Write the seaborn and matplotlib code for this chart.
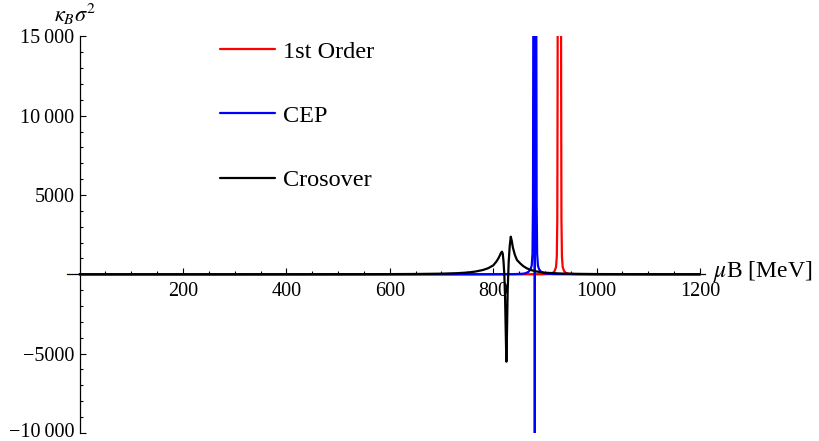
import numpy as np
import pandas as pd
import matplotlib
matplotlib.use("Agg")
import matplotlib.pyplot as plt
import matplotlib.transforms as mtransforms
import seaborn as sns
from matplotlib.ticker import FixedLocator, FixedFormatter

sns.set_style("white")
plt.rcParams["font.family"] = ["Liberation Serif", "DejaVu Serif"]
plt.rcParams["mathtext.fontset"] = "stix"
plt.rcParams["text.color"] = "black"
plt.rcParams["xtick.color"] = "black"
plt.rcParams["ytick.color"] = "black"
plt.rcParams["axes.labelcolor"] = "black"

# --- curve samples: muB [MeV] vs kappa_B sigma^2 ---
first_order_x = [0, 200, 400, 600, 700, 800, 860, 900, 910, 916, 919, 921.5, 923, 924,
                 924.6, 925.2, 928, 930.8, 931.4, 932, 933, 934.5, 937, 940, 946, 960,
                 1000, 1100, 1200]
first_order_y = [0, 0, 0, 0, 1, 2, 5, 10, 30, 100, 220, 450, 1100, 3500,
                 12000, 30000, 60000, 30000, 12000, 3500, 1100, 450, 220, 100, 30, 10,
                 3, 1, 0]

cep_x = [0, 200, 400, 600, 700, 800, 840, 855, 862, 868, 872, 874.5, 876, 877,
         877.5, 878.2, 880.3, 880.5, 880.7, 882.8, 883.5, 884, 885, 886.5, 889, 893,
         899, 906, 920, 960, 1000, 1100, 1200]
cep_y = [0, 0, 0, 0, 1, 5, 12, 30, 60, 150, 300, 550, 1300, 4500,
         14000, 35000, 60000, -60000, 60000, 35000, 14000, 4500, 1300, 550, 300, 150,
         60, 30, 12, 5, 2, 1, 0]

crossover_x = [0, 100, 200, 300, 400, 500, 600, 650, 700, 730, 750, 765, 780, 790,
               800, 806, 810, 813, 815, 817, 818.5, 820, 821.5, 823, 824.5, 825.5,
               826.5, 828, 830, 832, 834, 836, 838, 842, 846, 852, 858, 865, 874,
               885, 900, 930, 960, 1000, 1100, 1200]
crossover_y = [0, 0, 0, 0, 2, 5, 12, 20, 40, 70, 110, 170, 270, 380,
               560, 795, 1000, 1200, 1350, 1425, 1300, 800, 0, -1500, -4000, -5510,
               -4000, -1000, 800, 1800, 2370, 2100, 1700, 1217, 900, 694, 520, 378, 260,
               170, 100, 50, 30, 15, 6, 3]

series_names = ["1st Order", "CEP", "Crosover"]
series_colors = ["#ff0000", "#0000ff", "#000000"]

x_major = [200, 400, 600, 800, 1000, 1200]
x_major_labels = ["200", "400", "600", "800", "1000", "1200"]
y_major = [-10000, -5000, 5000, 10000, 15000]
y_major_labels = ["\u221210\u2009000", "\u22125000", "5000", "10\u2009000", "15\u2009000"]

frames = [
    pd.DataFrame({"muB": first_order_x, "kappa": first_order_y, "series": "1st Order"}),
    pd.DataFrame({"muB": cep_x, "kappa": cep_y, "series": "CEP"}),
    pd.DataFrame({"muB": crossover_x, "kappa": crossover_y, "series": "Crosover"}),
]

fig = plt.figure(figsize=(8.19, 4.41), dpi=100)
ax = fig.add_axes([67 / 819, 1 - 432.9 / 441, (705 - 67) / 819, (432.9 - 36.4) / 441])

handles = {}
for df in frames:
    name = df["series"].iloc[0]
    col = series_colors[series_names.index(name)]
    sns.lineplot(data=df, x="muB", y="kappa", color=col, lw=1.6, ax=ax,
                 estimator=None, sort=False, legend=False)
    handles[name] = ax.lines[-1]

ax.set_xlim(-24.4, 1209.7)
ax.set_ylim(-10000, 15000)

for s in ["top", "right"]:
    ax.spines[s].set_visible(False)
ax.spines["left"].set_position(("data", 0))
ax.spines["bottom"].set_position(("data", 0))
for s in ["left", "bottom"]:
    ax.spines[s].set_linewidth(0.9)
    ax.spines[s].set_color("black")
    ax.spines[s].set_zorder(0.5)

ax.xaxis.set_major_locator(FixedLocator(x_major))
ax.xaxis.set_major_formatter(FixedFormatter(x_major_labels))
ax.xaxis.set_minor_locator(FixedLocator([v for v in range(50, 1201, 50) if v % 200]))
ax.yaxis.set_major_locator(FixedLocator(y_major))
ax.yaxis.set_major_formatter(FixedFormatter(y_major_labels))
ax.yaxis.set_minor_locator(FixedLocator([v for v in range(-10000, 15001, 1000)
                                         if v % 5000]))

ax.tick_params(axis="both", which="both", direction="in", color="black", width=0.8,
               labelsize=14.5, labelcolor="black")
ax.tick_params(axis="x", which="both", bottom=True, top=False)
ax.tick_params(axis="y", which="both", left=True, right=False)
ax.tick_params(axis="both", which="major", length=4)
ax.tick_params(axis="both", which="minor", length=2.4)
ax.tick_params(axis="x", which="major", pad=5.5)
ax.tick_params(axis="y", which="major", pad=3.6)
ax.set_xlabel("")
ax.set_ylabel("")
ax.grid(False)

fig.text(713 / 819, 1 - 272 / 441, "$\\mu$B [MeV]", ha="left", va="center", fontsize=17)
fig.text(75 / 819, 1 - 27 / 441, "$\\kappa_B\\sigma^2$", ha="center", va="bottom",
         fontsize=16)

ax.legend([handles[n] for n in series_names], series_names, loc="upper left",
          bbox_to_anchor=(220 / 819, 1 - 40.5 / 441), bbox_transform=fig.transFigure,
          frameon=False, fontsize=17.5, handlelength=2.26, handletextpad=0.33,
          labelspacing=1.74, borderpad=0, borderaxespad=0)

# keep the lowest tick label inside the canvas
fig.canvas.draw()
lift = mtransforms.ScaledTranslation(0, 2.5 / 100, fig.dpi_scale_trans)
for tick in ax.yaxis.get_major_ticks():
    if tick.get_loc() == -10000:
        tick.label1.set_transform(tick.label1.get_transform() + lift)

fig.savefig("out.png", dpi=100)
